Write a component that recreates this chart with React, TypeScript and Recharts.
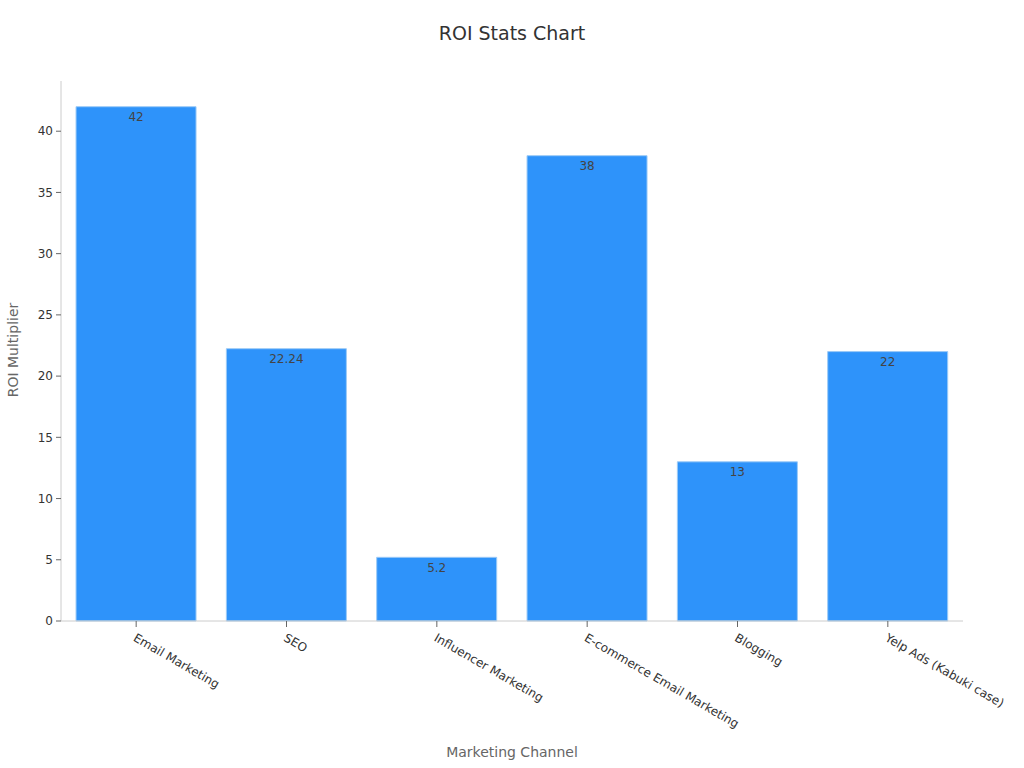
import React from 'react';
import { BarChart, Bar, XAxis, YAxis, LabelList } from 'recharts';

const categories = ['Email Marketing', 'SEO', 'Influencer Marketing', 'E-commerce Email Marketing', 'Blogging', 'Yelp Ads (Kabuki case)'];
const roiValues = [42, 22.24, 5.2, 38, 13, 22];
const yTicks = [0, 5, 10, 15, 20, 25, 30, 35, 40];

const data = categories.map((c, i) => ({ name: c, roi: roiValues[i] }));

const FONT = '"DejaVu Sans", sans-serif';

const XTick = (props: any) => {
  const { x, y, payload } = props;
  return (
    <g transform={`translate(${x},${y + 3})`}>
      <text x={0} y={0} dx={1} dy={9} transform="rotate(30)" textAnchor="start" fill="#333" fontSize={12} fontFamily={FONT}>
        {payload.value}
      </text>
    </g>
  );
};

export default function App() {
  return (
    <div style={{ position: 'absolute', left: 0, top: 0, width: 1024, height: 768, background: '#fff', fontFamily: FONT }}>
      <div style={{ position: 'absolute', top: 22, left: 0, width: 1024, textAlign: 'center', fontSize: 19, color: '#333' }}>
        ROI Stats Chart
      </div>
      <div style={{ position: 'absolute', top: 744, left: 61, width: 902, textAlign: 'center', fontSize: 14, color: '#666' }}>
        Marketing Channel
      </div>
      <div style={{ position: 'absolute', left: 13, top: 350, transform: 'translate(-50%, -50%) rotate(-90deg)', fontSize: 14, color: '#666', whiteSpace: 'nowrap' }}>
        ROI Multiplier
      </div>
      <BarChart width={1024} height={768} data={data} margin={{ top: 81, right: 61, left: 1, bottom: 0 }} barCategoryGap="10%">
        <XAxis
          dataKey="name"
          height={147}
          tick={<XTick />}
          tickSize={6}
          axisLine={{ stroke: '#ccc' }}
          tickLine={{ stroke: '#666' }}
          interval={0}
        />
        <YAxis
          width={60}
          domain={[0, 44.1]}
          ticks={yTicks}
          tick={{ fill: '#333', fontSize: 12, fontFamily: FONT }}
          axisLine={{ stroke: '#ccc' }}
          tickLine={{ stroke: '#666' }}
          tickSize={5}
          tickMargin={3}
        />
        <Bar dataKey="roi" fill="#2E93FA" stroke="#9ccaf6" strokeWidth={1} isAnimationActive={false}>
          <LabelList dataKey="roi" position="insideTop" offset={6} fill="#444" fontSize={12} fontFamily={FONT} />
        </Bar>
      </BarChart>
    </div>
  );
}
